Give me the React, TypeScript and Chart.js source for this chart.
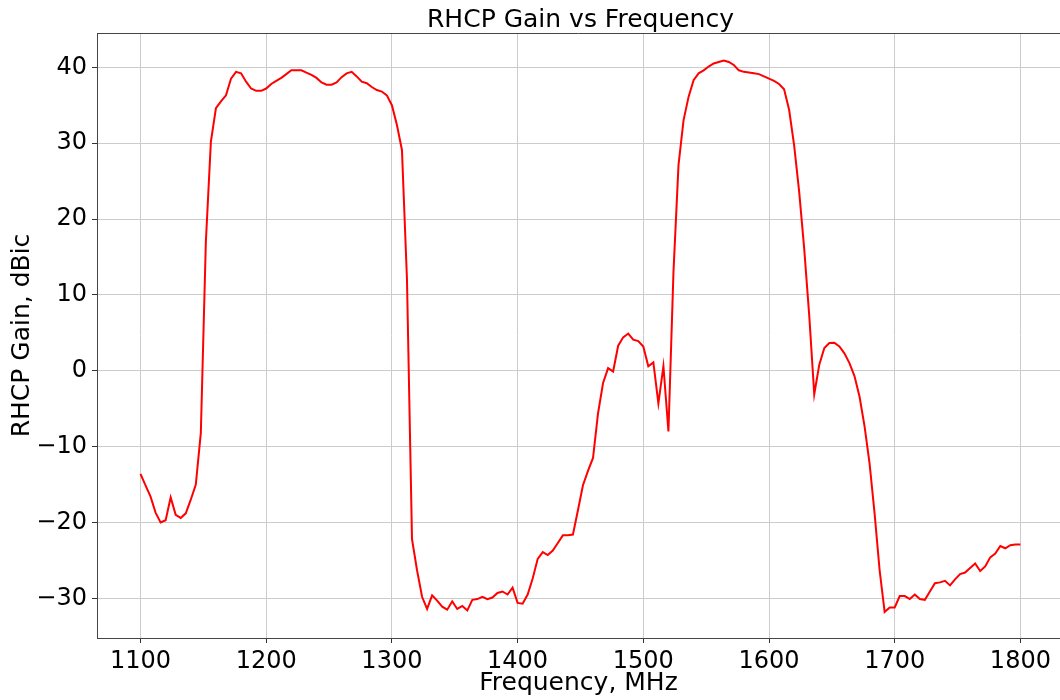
import React, { useEffect, useRef } from "react";
import { Chart, registerables } from "chart.js";

Chart.register(...registerables);

const frequencies: number[] = [
  1100, 1104, 1108, 1112, 1116, 1120, 1124, 1128, 1132, 1136, 1140, 1144, 1148, 1152, 1156, 1160, 1164, 1168, 1172, 1176, 1180, 1184, 1188, 1192, 1196,
  1200, 1204, 1208, 1212, 1216, 1220, 1224, 1228, 1232, 1236, 1240, 1244, 1248, 1252, 1256, 1260, 1264, 1268, 1272, 1276, 1280, 1284, 1288, 1292, 1296,
  1300, 1304, 1308, 1312, 1316, 1320, 1324, 1328, 1332, 1336, 1340, 1344, 1348, 1352, 1356, 1360, 1364, 1368, 1372, 1376, 1380, 1384, 1388, 1392, 1396,
  1400, 1404, 1408, 1412, 1416, 1420, 1424, 1428, 1432, 1436, 1440, 1444, 1448, 1452, 1456, 1460, 1464, 1468, 1472, 1476, 1480, 1484, 1488, 1492, 1496,
  1500, 1504, 1508, 1512, 1516, 1520, 1524, 1528, 1532, 1536, 1540, 1544, 1548, 1552, 1556, 1560, 1564, 1568, 1572, 1576, 1580, 1584, 1588, 1592, 1596,
  1600, 1604, 1608, 1612, 1616, 1620, 1624, 1628, 1632, 1636, 1640, 1644, 1648, 1652, 1656, 1660, 1664, 1668, 1672, 1676, 1680, 1684, 1688, 1692, 1696,
  1700, 1704, 1708, 1712, 1716, 1720, 1724, 1728, 1732, 1736, 1740, 1744, 1748, 1752, 1756, 1760, 1764, 1768, 1772, 1776, 1780, 1784, 1788, 1792, 1796,
  1800,
];

const gainDbic: number[] = [
  -13.6, -15.1, -16.6, -18.7, -20.0, -19.7, -16.7, -19.0, -19.4, -18.8, -17.0, -15.0, -8.2, 17.0, 30.2, 34.6, 35.5, 36.3, 38.5, 39.4, 39.2, 38.1, 37.2, 36.9, 36.9,
  37.2, 37.8, 38.2, 38.6, 39.1, 39.6, 39.6, 39.6, 39.3, 39.0, 38.6, 38.0, 37.7, 37.7, 38.0, 38.7, 39.2, 39.4, 38.8, 38.1, 37.9, 37.4, 37.0, 36.8, 36.3,
  35.0, 32.4, 29.1, 12.0, -22.2, -26.3, -29.8, -31.4, -29.6, -30.3, -31.1, -31.5, -30.4, -31.4, -31.0, -31.6, -30.2, -30.1, -29.8, -30.1, -29.9, -29.3, -29.1, -29.5, -28.6,
  -30.6, -30.7, -29.5, -27.4, -24.8, -23.9, -24.3, -23.7, -22.7, -21.7, -21.7, -21.6, -18.4, -15.1, -13.2, -11.5, -5.6, -1.6, 0.35, -0.1, 3.3, 4.4, 4.9, 4.1, 3.9,
  3.2, 0.6, 1.1, -4.3, 0.6, -8.0, 13.0, 27.1, 33.0, 36.1, 38.3, 39.2, 39.6, 40.1, 40.5, 40.7, 40.9, 40.7, 40.3, 39.6, 39.4, 39.3, 39.2, 39.1, 38.8,
  38.5, 38.2, 37.8, 37.1, 34.4, 29.7, 23.6, 16.1, 7.3, -3.1, 0.8, 3.0, 3.65, 3.7, 3.2, 2.3, 1.0, -0.7, -3.4, -7.3, -12.2, -18.8, -26.3, -31.8, -31.2,
  -31.2, -29.7, -29.7, -30.1, -29.5, -30.1, -30.2, -29.1, -28.0, -27.9, -27.7, -28.3, -27.5, -26.8, -26.6, -26.0, -25.4, -26.4, -25.8, -24.6, -24.1, -23.1, -23.4, -23.0, -22.9,
  -22.9,
];

const xTicks: number[] = [1100, 1200, 1300, 1400, 1500, 1600, 1700, 1800];
const yTicks: number[] = [-30, -20, -10, 0, 10, 20, 30, 40];
const chartTitle = "RHCP Gain vs Frequency";

const FONT = "'DejaVu Sans', sans-serif";

export default function App() {
  const ref = useRef<HTMLCanvasElement | null>(null);

  useEffect(() => {
    if (!ref.current) return;
    const frame = {
      id: "frame",
      afterDraw(chart: any) {
        const { ctx, chartArea } = chart;
        ctx.save();
        ctx.strokeStyle = "#444";
        ctx.lineWidth = 1;
        ctx.beginPath();
        ctx.moveTo(chartArea.left, chartArea.top + 0.5);
        ctx.lineTo(chartArea.right, chartArea.top + 0.5);
        ctx.stroke();
        ctx.fillStyle = "#000";
        ctx.font = `25px ${FONT}`;
        ctx.textAlign = "center";
        ctx.textBaseline = "middle";
        ctx.fillText(chartTitle, (chartArea.left + 1064) / 2, 20);
        ctx.restore();
      },
    };
    const chart = new Chart(ref.current, {
      type: "line",
      data: {
        datasets: [
          {
            label: "RHCP Gain",
            data: frequencies.map((f, i) => ({ x: f, y: gainDbic[i] })),
            borderColor: "#ff0000",
            borderWidth: 2,
            pointRadius: 0,
            tension: 0,
            fill: false,
          },
        ],
      },
      options: {
        animation: false,
        responsive: false,
        layout: { padding: { left: 0, right: 0, top: 33, bottom: 0 } },
        plugins: {
          legend: { display: false },
          tooltip: { enabled: false },
          title: { display: false },
        },
        scales: {
          x: {
            type: "linear",
            min: 1065.4,
            max: 1831.5,
            afterFit: (s: any) => {
              s.height = 62;
            },
            afterBuildTicks: (s: any) => {
              s.ticks = xTicks.map((v) => ({ value: v }));
            },
            ticks: {
              includeBounds: false,
              color: "#000",
              font: { family: FONT, size: 24 },
              padding: 4,
              maxRotation: 0,
              callback: (v: any) => String(v),
            },
            grid: { color: "#cccccc", lineWidth: 1, tickLength: 5, tickColor: "#333" },
            border: { display: true, color: "#444", width: 1 },
            title: {
              display: true,
              text: "Frequency, MHz",
              color: "#000",
              font: { family: FONT, size: 25 },
              padding: { top: 0, bottom: 2 },
            },
          },
          y: {
            type: "linear",
            min: -35.23,
            max: 44.52,
            afterFit: (s: any) => {
              s.width = 97;
            },
            afterBuildTicks: (s: any) => {
              s.ticks = yTicks.map((v) => ({ value: v }));
            },
            ticks: {
              includeBounds: false,
              color: "#000",
              font: { family: FONT, size: 24 },
              padding: 5,
              callback: (v: any) => String(v).replace("-", "\u2212"),
            },
            grid: { color: "#cccccc", lineWidth: 1, tickLength: 5, tickColor: "#333" },
            border: { display: true, color: "#444", width: 1 },
            title: {
              display: true,
              text: "RHCP Gain, dBic",
              color: "#000",
              font: { family: FONT, size: 25 },
              padding: { top: 7, bottom: 0 },
            },
          },
        },
      },
      plugins: [frame],
    });
    return () => chart.destroy();
  }, []);

  return (
    <div style={{ position: "fixed", left: 0, top: 0, width: 1060, height: 700, background: "#fff" }}>
      <canvas ref={ref} width={1060} height={700} style={{ width: 1060, height: 700 }} />
    </div>
  );
}
